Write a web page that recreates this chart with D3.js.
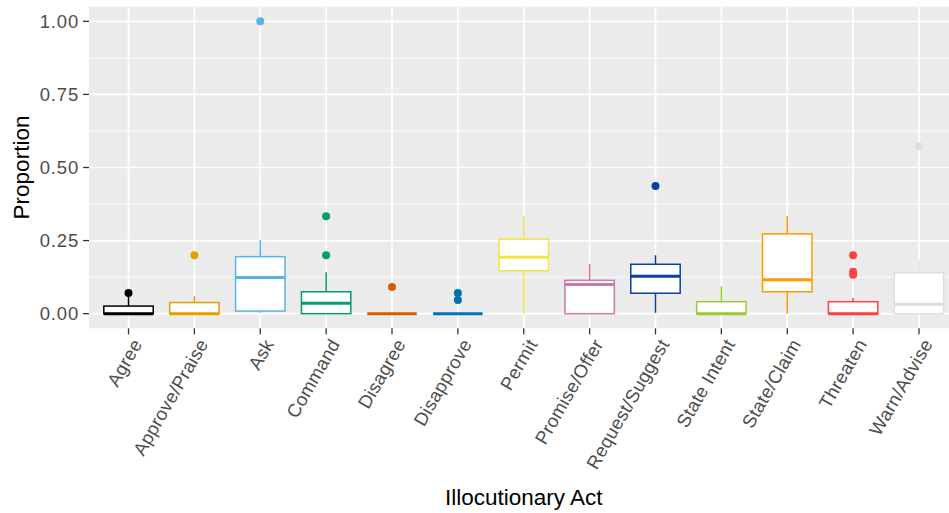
<!DOCTYPE html>
<html>
<head>
<meta charset="utf-8">
<script src="https://cdn.jsdelivr.net/npm/d3@7"></script>
<style>
  html, body { margin: 0; padding: 0; background: #fff; }
  svg { display: block; }
  text { font-family: "Liberation Sans", Arial, sans-serif; }
</style>
</head>
<body>
<svg id="chart" width="949" height="513"></svg>
<script>
const categories = ["Agree", "Approve/Praise", "Ask", "Command", "Disagree", "Disapprove", "Permit",
  "Promise/Offer", "Request/Suggest", "State Intent", "State/Claim", "Threaten", "Warn/Advise"];
const colors = ["#000000", "#E69F00", "#56B4E9", "#009E73", "#D55E00", "#0072B2", "#F0E442",
  "#CC79A7", "#0A3FA5", "#99CC33", "#FF9900", "#FF4040", "#E0DCDC"];
const whiskerLow = [0, 0, 0.003, 0, 0, 0, 0, 0, 0.003, 0, 0, 0, 0];
const q1 =        [0, 0, 0.009, 0, 0, 0, 0.147, 0, 0.07, 0, 0.075, 0, 0];
const median =    [0, 0, 0.124, 0.036, 0, 0, 0.193, 0.1, 0.128, 0, 0.116, 0, 0.032];
const q3 =        [0.026, 0.038, 0.195, 0.075, 0, 0, 0.255, 0.114, 0.169, 0.041, 0.273, 0.041, 0.14];
const whiskerHigh = [0.06, 0.06, 0.252, 0.142, 0, 0, 0.333, 0.17, 0.2, 0.094, 0.333, 0.054, 0.186];
const outliers = [[0.071], [0.2], [1.0], [0.2, 0.333], [0.091], [0.047, 0.071], [], [], [0.437], [], [], [0.133, 0.143, 0.2], [0.573]];
const yTicks = [0, 0.25, 0.5, 0.75, 1.0];
const yMinor = [0.125, 0.375, 0.625, 0.875];

const svg = d3.select("#chart");
const panel = { left: 89, right: 958.5, top: 6.7, bottom: 328.3 };

// discrete axis with 0.6-unit expansion on each side
const x = d3.scalePoint().domain(categories)
  .range([panel.left, panel.right]).padding(0.6);
const step = x.step();
const y = d3.scaleLinear().domain([-0.05, 1.05]).range([panel.bottom, panel.top]);

svg.append("rect").attr("x", panel.left).attr("y", panel.top)
  .attr("width", panel.right - panel.left).attr("height", panel.bottom - panel.top)
  .attr("fill", "#EBEBEB");

const grid = svg.append("g");
grid.selectAll(".minor").data(yMinor).join("line")
  .attr("x1", panel.left).attr("x2", panel.right)
  .attr("y1", d => y(d)).attr("y2", d => y(d))
  .attr("stroke", "#fff").attr("stroke-width", 0.9);
grid.selectAll(".major").data(yTicks).join("line")
  .attr("x1", panel.left).attr("x2", panel.right)
  .attr("y1", d => y(d)).attr("y2", d => y(d))
  .attr("stroke", "#fff").attr("stroke-width", 1.7);
grid.selectAll(".vmajor").data(categories).join("line")
  .attr("x1", d => x(d)).attr("x2", d => x(d))
  .attr("y1", panel.top).attr("y2", panel.bottom)
  .attr("stroke", "#fff").attr("stroke-width", 1.7);

// y axis
const yAxis = svg.append("g");
yAxis.selectAll("line").data(yTicks).join("line")
  .attr("x1", panel.left - 6).attr("x2", panel.left)
  .attr("y1", d => y(d)).attr("y2", d => y(d))
  .attr("stroke", "#333").attr("stroke-width", 1.3);
yAxis.selectAll("text").data(yTicks).join("text")
  .attr("x", panel.left - 10).attr("y", d => y(d))
  .attr("dy", "0.35em").attr("text-anchor", "end")
  .attr("font-size", 18.5).attr("letter-spacing", "0.8px").attr("fill", "#4D4D4D")
  .text(d => d3.format(".2f")(d));

// x axis
const xAxis = svg.append("g");
xAxis.selectAll("line").data(categories).join("line")
  .attr("x1", d => x(d)).attr("x2", d => x(d))
  .attr("y1", panel.bottom).attr("y2", panel.bottom + 6)
  .attr("stroke", "#333").attr("stroke-width", 1.3);
xAxis.selectAll("text").data(categories).join("text")
  .attr("transform", d => `translate(${x(d) + 3},${panel.bottom + 9}) rotate(-60)`)
  .attr("text-anchor", "end").attr("dy", "0.71em")
  .attr("font-size", 18.5).attr("letter-spacing", "0.3px").attr("fill", "#4D4D4D")
  .text(d => d);

// axis titles
svg.append("text").attr("x", (panel.left + panel.right) / 2).attr("y", 505)
  .attr("text-anchor", "middle").attr("font-size", 22.5).attr("fill", "#000")
  .text("Illocutionary Act");
svg.append("text").attr("transform", `translate(29,${(panel.top + panel.bottom) / 2}) rotate(-90)`)
  .attr("text-anchor", "middle").attr("font-size", 22.5).attr("fill", "#000")
  .text("Proportion");

// boxes
const boxW = step * 0.75;
const boxes = svg.append("g");
categories.forEach((c, i) => {
  const g = boxes.append("g");
  const cx = x(c), col = colors[i];
  g.append("line").attr("x1", cx).attr("x2", cx)
    .attr("y1", y(q3[i])).attr("y2", y(whiskerHigh[i]))
    .attr("stroke", col).attr("stroke-width", 1.5);
  g.append("line").attr("x1", cx).attr("x2", cx)
    .attr("y1", y(q1[i])).attr("y2", y(whiskerLow[i]))
    .attr("stroke", col).attr("stroke-width", 1.5);
  g.append("rect").attr("x", cx - boxW / 2).attr("width", boxW)
    .attr("y", y(q3[i])).attr("height", Math.max(0, y(q1[i]) - y(q3[i])))
    .attr("fill", "#fff").attr("stroke", col).attr("stroke-width", 1.5);
  g.append("line").attr("x1", cx - boxW / 2).attr("x2", cx + boxW / 2)
    .attr("y1", y(median[i])).attr("y2", y(median[i]))
    .attr("stroke", col).attr("stroke-width", 3);
  g.selectAll("circle").data(outliers[i]).join("circle")
    .attr("cx", cx).attr("cy", d => y(d)).attr("r", 4)
    .attr("fill", col);
});
</script>
</body>
</html>
